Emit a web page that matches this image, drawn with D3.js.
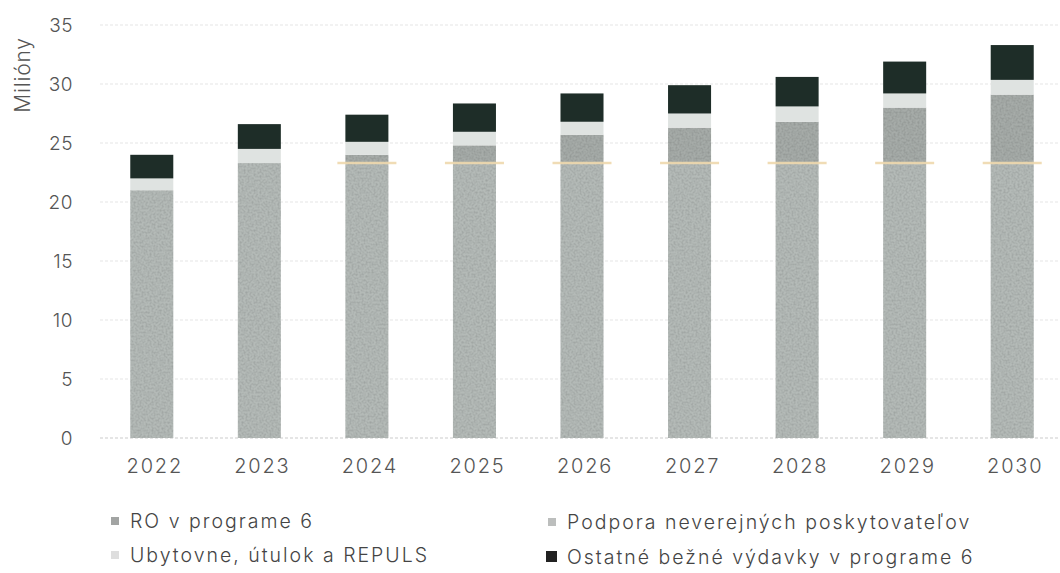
<!DOCTYPE html>
<html>
<head>
<meta charset="utf-8">
<script src="https://cdn.jsdelivr.net/npm/d3@7"></script>
<style>
  html, body { margin: 0; padding: 0; background: #ffffff; }
  svg { display: block; font-family: Inter, "Open Sans", "Noto Sans", sans-serif; font-weight: 300; }
</style>
</head>
<body>
<svg id="chart" width="1060" height="573"></svg>
<script>
// ---- data ----
const years = ["2022", "2023", "2024", "2025", "2026", "2027", "2028", "2029", "2030"];
const roProgram6 = [21.0, 23.3, 23.3, 23.3, 23.3, 23.3, 23.3, 23.3, 23.3];
const podporaNeverejnych = [0, 0, 0.7, 1.5, 2.4, 3.0, 3.5, 4.7, 5.8];
const ubytovne = [1.0, 1.2, 1.1, 1.15, 1.1, 1.2, 1.3, 1.2, 1.25];
const ostatne = [2.0, 2.1, 2.3, 2.4, 2.4, 2.4, 2.5, 2.7, 2.95];
const seriesNames = ["RO v programe 6", "Podpora neverejných poskytovateľov", "Ubytovne, útulok a REPULS", "Ostatné bežné výdavky v programe 6"];
const yTicks = [0, 5, 10, 15, 20, 25, 30, 35];
const yTitle = "Milióny";

const colors = ["#b4bab7", "#a6aba8", "#dfe3e1", "#1e2d28"];
const legendColors = ["#a2a4a3", "#bcbebd", "#dedede", "#222222"];

const svg = d3.select("#chart");
const defs = svg.append("defs");

// subtle scan-like texture
const f = defs.append("filter").attr("id", "grain").attr("x", 0).attr("y", 0).attr("width", 1).attr("height", 1);
f.append("feTurbulence").attr("type", "fractalNoise").attr("baseFrequency", 0.5).attr("numOctaves", 2).attr("seed", 3).attr("result", "noise");
f.append("feColorMatrix").attr("in", "noise").attr("type", "matrix")
  .attr("values", "0 0 0 0 0  0 0 0 0 0  0 0 0 0 0  0 0 0 -1.6 1.05").attr("result", "dark");
f.append("feComposite").attr("in", "dark").attr("in2", "SourceGraphic").attr("operator", "in").attr("result", "darkIn");
f.append("feComponentTransfer").attr("in", "darkIn").attr("result", "darkSoft")
  .append("feFuncA").attr("type", "linear").attr("slope", 0.3);
const m = f.append("feMerge");
m.append("feMergeNode").attr("in", "SourceGraphic");
m.append("feMergeNode").attr("in", "darkSoft");

const x = d3.scaleBand().domain(years).range([98, 1066]).paddingInner(0.6).paddingOuter(0.3);
const y = d3.scaleLinear().domain([0, 35]).range([438, 25]);

// gridlines
svg.append("g").selectAll("line").data(yTicks).join("line")
  .attr("x1", 100).attr("x2", 1060)
  .attr("y1", d => y(d)).attr("y2", d => y(d))
  .attr("stroke", d => d === 0 ? "#cccccc" : "#e6e6e6")
  .attr("stroke-width", 1.2)
  .attr("stroke-dasharray", "3,2");

// y axis labels
const yAxis = d3.axisLeft(y).tickValues(yTicks).tickSize(0).tickPadding(0);
const yg = svg.append("g").attr("transform", "translate(73,0)").call(yAxis);
yg.select(".domain").remove();
yg.selectAll("text").attr("font-size", 19).attr("fill", "#555")
  .attr("font-family", "Inter, \"Open Sans\", sans-serif").attr("letter-spacing", 0.5);

// y title
svg.append("text").attr("transform", "translate(30,75) rotate(-90)")
  .attr("text-anchor", "middle").attr("font-size", 21).attr("fill", "#555")
  .attr("letter-spacing", 0.8)
  .text(yTitle);

// x axis labels
const xAxis = d3.axisBottom(x).tickSize(0).tickPadding(0);
const xg = svg.append("g").attr("transform", "translate(3,456)").call(xAxis);
xg.select(".domain").remove();
xg.selectAll("text").attr("font-size", 20).attr("fill", "#555")
  .attr("font-family", "Inter, \"Open Sans\", sans-serif")
  .attr("letter-spacing", 1.8).attr("dy", "0.85em");

// stacked data
const table = years.map((yr, i) => ({ year: yr, s0: roProgram6[i], s1: podporaNeverejnych[i], s2: ubytovne[i], s3: ostatne[i] }));
const stack = d3.stack().keys(["s0", "s1", "s2", "s3"]);
const stacked = stack(table);

const layers = svg.append("g").selectAll("g").data(stacked).join("g")
  .attr("fill", (d, i) => colors[i])
  .attr("filter", (d, i) => i < 2 ? "url(#grain)" : null);
layers.selectAll("rect").data(d => d).join("rect")
  .attr("x", d => x(d.data.year))
  .attr("width", x.bandwidth())
  .attr("y", d => y(d[1]))
  .attr("height", d => Math.max(0, y(d[0]) - y(d[1])));

// thin beige line at the RO / Podpora boundary
svg.append("g").selectAll("line").data(table.filter(d => d.s1 > 0)).join("line")
  .attr("x1", d => x(d.year) - 8).attr("x2", d => x(d.year) + x.bandwidth() + 8)
  .attr("y1", d => y(d.s0)).attr("y2", d => y(d.s0))
  .attr("stroke", "#efd9ae").attr("stroke-width", 2.5).attr("opacity", 0.9);

// legend
const legendPos = [[130, 521], [567, 522], [130, 555], [567, 557]];
const lg = svg.append("g").selectAll("g").data(seriesNames).join("g")
  .attr("transform", (d, i) => `translate(${legendPos[i][0]},${legendPos[i][1]})`);
lg.append("rect").attr("x", (d, i) => i === 3 ? -21 : -19).attr("y", (d, i) => i === 3 ? -6 : -4)
  .attr("width", (d, i) => i === 3 ? 11 : 8).attr("height", (d, i) => i === 3 ? 11 : 8)
  .attr("fill", (d, i) => legendColors[i]);
lg.append("text").attr("dy", "0.35em").attr("font-size", 19.5).attr("fill", "#444")
  .attr("letter-spacing", 2.0)
  .text(d => d);
</script>
</body>
</html>
